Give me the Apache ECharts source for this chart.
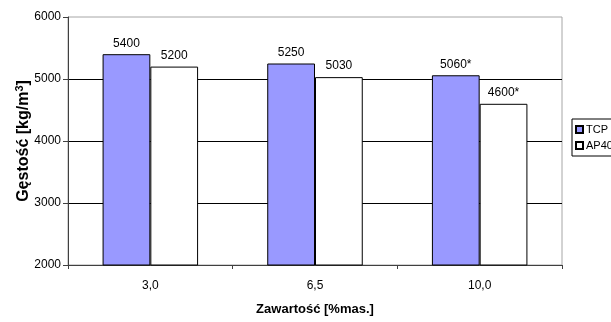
<!DOCTYPE html>
<html>
<head>
<meta charset="utf-8">
<script src="https://cdn.jsdelivr.net/npm/echarts@6/dist/echarts.min.js"></script>
<style>
  html, body { margin: 0; padding: 0; background: #fff; }
  #chart { width: 611px; height: 322px; }
</style>
</head>
<body>
<div id="chart"></div>
<script>
// Density of the samples per additive content
const categories = ['3,0', '6,5', '10,0'];
const seriesNames = ['TCP', 'AP40'];
const tcpValues = [5400, 5250, 5060];
const ap40Values = [5200, 5030, 4600];
// Footnote marks appended to value labels
const tcpMarks = ['', '', '*'];
const ap40Marks = ['', '', '*'];
const yTicks = [2000, 3000, 4000, 5000, 6000];

const FONT = '"Liberation Sans", Arial, sans-serif';

const chart = echarts.init(document.getElementById('chart'), null, { renderer: 'canvas' });

function barSeries(name, values, marks, color) {
  return {
    name: name,
    type: 'bar',
    data: values,
    barGap: '0%',
    barCategoryGap: '42%',
    itemStyle: { color: color, borderColor: '#000', borderWidth: 1 },
    label: {
      show: true,
      position: 'top',
      distance: 5,
      color: '#000',
      fontFamily: FONT,
      fontSize: 12,
      formatter: p => p.value + marks[p.dataIndex]
    }
  };
}

chart.setOption({
  animation: false,
  backgroundColor: '#fff',
  textStyle: { fontFamily: FONT },
  grid: {
    left: 68, top: 17, right: 49, bottom: 57,
    show: true,
    borderColor: '#a6a6a6',
    borderWidth: 1,
    backgroundColor: 'transparent'
  },
  legend: {
    data: seriesNames,
    orient: 'vertical',
    left: 572,
    top: 119,
    padding: [5, 30, 5, 3],
    itemGap: 5,
    itemWidth: 7,
    itemHeight: 7,
    borderColor: '#000',
    borderWidth: 1,
    icon: 'rect',
    textStyle: { fontFamily: FONT, fontSize: 11, color: '#000', padding: [0, 0, 0, -2] }
  },
  xAxis: {
    type: 'category',
    data: categories,
    name: 'Zawartość [%mas.]',
    nameLocation: 'middle',
    nameGap: 38,
    nameMoveOverlap: false,
    nameTextStyle: { fontFamily: FONT, fontSize: 13, fontWeight: 'bold', color: '#000' },
    axisLine: { lineStyle: { color: '#404040', width: 1 } },
    axisTick: { show: true, length: 4, lineStyle: { color: '#404040' } },
    axisLabel: { margin: 15, fontFamily: FONT, fontSize: 12, color: '#000' }
  },
  yAxis: {
    type: 'value',
    min: yTicks[0],
    max: yTicks[yTicks.length - 1],
    interval: 1000,
    name: '{a|Gęstość [kg/m}{s|3}{a|]}',
    nameLocation: 'middle',
    nameRotate: 90,
    nameGap: 35,
    nameMoveOverlap: false,
    nameTextStyle: {
      rich: {
        a: { fontFamily: FONT, fontSize: 16, fontWeight: 'bold', color: '#000', lineHeight: 19 },
        s: { fontFamily: FONT, fontSize: 11, fontWeight: 'bold', color: '#000', lineHeight: 19, verticalAlign: 'top', padding: [0, 0, 6, 0] }
      }
    },
    axisLine: { show: true, lineStyle: { color: '#404040', width: 1 } },
    axisTick: { show: true, length: 5, lineStyle: { color: '#404040' } },
    axisLabel: {
      margin: 7, fontFamily: FONT, fontSize: 12, color: '#000',
      formatter: v => String(v)
    },
    splitLine: {
      show: true,
      showMinLine: false,
      showMaxLine: false,
      lineStyle: { color: '#000', width: 1 }
    }
  },
  series: [
    barSeries(seriesNames[0], tcpValues, tcpMarks, '#9999ff'),
    barSeries(seriesNames[1], ap40Values, ap40Marks, '#ffffff')
  ]
});
</script>
</body>
</html>
